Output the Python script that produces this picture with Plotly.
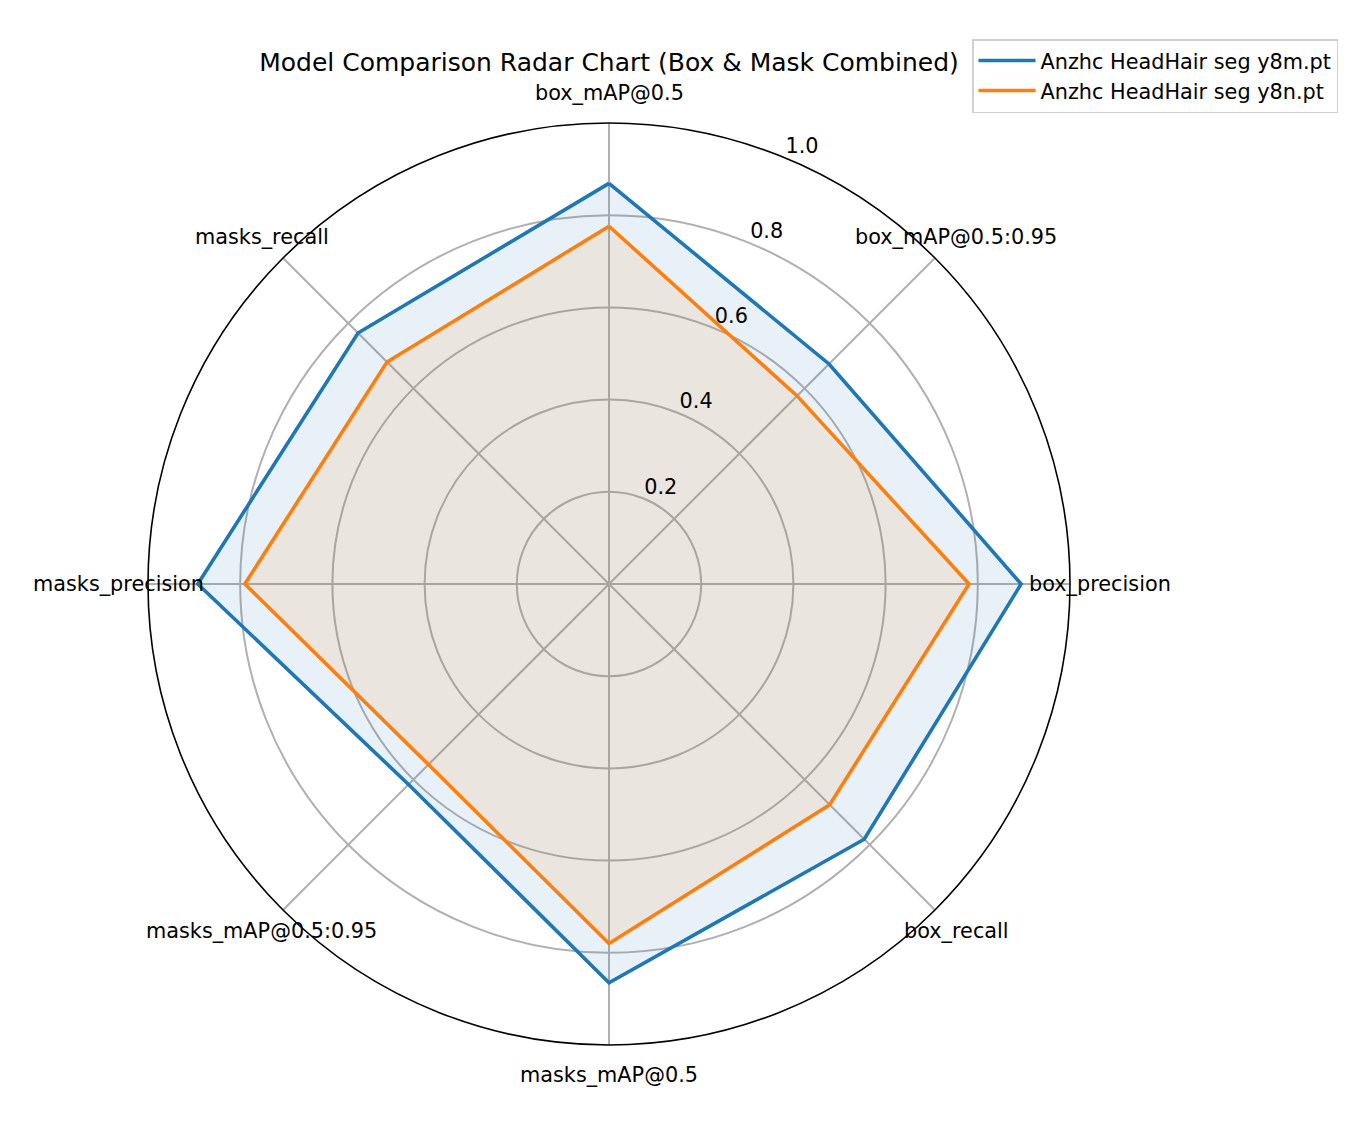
import math
import plotly.graph_objects as go

categories = ["box_mAP@0.5", "box_mAP@0.5:0.95", "box_precision", "box_recall",
              "masks_mAP@0.5", "masks_mAP@0.5:0.95", "masks_precision", "masks_recall"]
model_names = ["Anzhc HeadHair seg y8m.pt", "Anzhc HeadHair seg y8n.pt"]
y8m_values = [0.869, 0.675, 0.894, 0.783, 0.865, 0.615, 0.892, 0.770]
y8n_values = [0.776, 0.577, 0.781, 0.677, 0.780, 0.554, 0.790, 0.681]
radial_ticks = [0.2, 0.4, 0.6, 0.8, 1.0]
radial_ticklabels = ["0.2", "0.4", "0.6", "0.8", "1.0"]

W, H = 1348, 1131
CX, CY, R = 609, 584, 461
FONT = "DejaVu Sans"
colors = ["#1f77b4", "#ff7f0e"]
fills = ["rgba(31,119,180,0.1)", "rgba(255,127,14,0.1)"]

n = len(categories)
angles = [i * 360.0 / n for i in range(n)]

fig = go.Figure()
for name, vals, col, fc in zip(model_names, [y8m_values, y8n_values], colors, fills):
    r = vals + vals[:1]
    th = angles + angles[:1]
    fig.add_trace(go.Scatterpolar(r=r, theta=th, mode="lines", fill="toself",
                                  fillcolor=fc, line=dict(width=0, color=col),
                                  showlegend=False, hoverinfo="skip"))
for name, vals, col in zip(model_names, [y8m_values, y8n_values], colors):
    r = vals + vals[:1]
    th = angles + angles[:1]
    fig.add_trace(go.Scatterpolar(r=r, theta=th, mode="lines", name=name,
                                  line=dict(width=3.6, color=col)))

# radial tick labels
fig.add_trace(go.Scatterpolar(r=radial_ticks, theta=[22.5] * len(radial_ticks),
                              mode="text", text=radial_ticklabels,
                              textposition="top right", cliponaxis=False,
                              textfont=dict(family=FONT, size=20.8, color="black"),
                              showlegend=False, hoverinfo="skip"))

annotations = []
for cat, a in zip(categories, angles):
    rad = math.radians(a)
    px = CX + 491 * math.sin(rad)
    py = CY - 491 * math.cos(rad)
    annotations.append(dict(text=cat, x=px / W, y=1 - py / H, xref="paper", yref="paper",
                            xanchor="center", yanchor="middle", showarrow=False,
                            font=dict(family=FONT, size=20.8, color="black")))

fig.update_layout(
    width=W, height=H,
    margin=dict(l=0, r=0, t=0, b=0),
    paper_bgcolor="white",
    font=dict(family=FONT, size=20.8, color="black"),
    title=dict(text="Model Comparison Radar Chart (Box & Mask Combined)",
               x=CX / W, xanchor="center", y=1 - 62 / H, yanchor="middle",
               font=dict(family=FONT, size=25, color="black")),
    polar=dict(
        domain=dict(x=[(CX - R) / W, (CX + R) / W], y=[1 - (CY + R) / H, 1 - (CY - R) / H]),
        bgcolor="white",
        angularaxis=dict(type="linear", rotation=90, direction="clockwise",
                         tickvals=angles, ticktext=categories, showticklabels=False,
                         ticks="", showgrid=True, gridcolor="#b0b0b0", gridwidth=1.6,
                         showline=True, linecolor="black", linewidth=1.6),
        radialaxis=dict(range=[0, 1], tickvals=[0, 0.2, 0.4, 0.6, 0.8, 1.0],
                        showticklabels=False, ticks="", showline=False,
                        showgrid=True, gridcolor="#b0b0b0", gridwidth=1.6),
    ),
    legend=dict(x=972 / W, y=1 - 39 / H, xanchor="left", yanchor="top",
                bgcolor="white", bordercolor="#d0d0d0", borderwidth=1.5,
                font=dict(family=FONT, size=20.8, color="black"),
                itemwidth=57, tracegroupgap=0),
    annotations=annotations,
    showlegend=True,
)

fig.write_html("out.html")
